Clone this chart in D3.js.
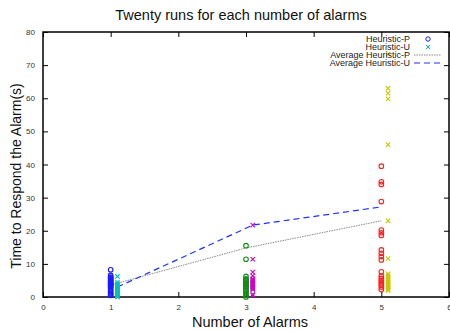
<!DOCTYPE html>
<html><head><meta charset="utf-8">
<script src="https://cdn.jsdelivr.net/npm/d3@7"></script>
<style>body{margin:0;background:#fff}svg{display:block}text{font-family:"Liberation Sans",Arial,sans-serif}</style>
</head><body><svg id="c" width="450" height="331"></svg>
<script>
// Data
const xTicks = [0,1,2,3,4,5,6];
const yTicks = [0,10,20,30,40,50,60,70,80];
const pX1 = 1, uX1 = 1.1, pX3 = 3, uX3 = 3.1, pX5 = 5, uX5 = 5.1;
const heurP1 = [8.2,6.5,6,5.8,5.5,5,4.8,4.5,4.2,4,3.8,3.5,3.2,3,2.5,2,1.5,1,0.8,0.5];
const heurU1 = [6.2,4.5,4,3.8,3.5,3.2,3,2.8,2.5,2.2,2,1.8,1.5,1.2,1,0.8,0.5,0.3,0.2,0];
const heurP3 = [15.5,11.4,6.2,5.5,5.2,5,4.8,4.5,4.2,4,3.8,3.5,3.2,3,2.5,2,1.5,1,0.5,0];
const heurU3 = [21.7,11.4,7.5,6.4,5.5,5.2,5,4.8,4.5,4.2,4,3.8,3.5,3.2,3,2.8,2.5,2.2,0.8,0.5];
const heurP5 = [39.5,34.8,34,28.8,20.2,19.4,18.6,14.2,13.2,12.2,11.2,7.6,6.3,5.6,5,4.6,4,3.6,3,2.3];
const heurU5 = [73.4,63,61.5,59.8,46,23,11.6,7,6.5,6,5.5,5,4.6,4.2,3.8,3.4,3,2.6,2.2,2];
const avgPx = [1,3,5], avgPy = [3.6,14.8,23];
const avgUx = [1.1,3.1,5.0], avgUy = [3.0,21.7,27.2];

const svg = d3.select("#c");
const L=43, R=449, T=32, B=297;
const x = d3.scaleLinear().domain([0,6]).range([L,R]);
const y = d3.scaleLinear().domain([0,80]).range([B,T]);

// axes (ticks inward, mirrored)
const g = svg.append("g");
g.append("g").attr("transform",`translate(0,${B})`).call(d3.axisBottom(x).tickValues(xTicks).tickSize(-5).tickPadding(7).tickFormat(d3.format("d")));
g.append("g").attr("transform",`translate(0,${T})`).call(d3.axisTop(x).tickValues(xTicks).tickSize(-5).tickFormat(""));
g.append("g").attr("transform",`translate(${L},0)`).call(d3.axisLeft(y).tickValues(yTicks).tickSize(-5).tickPadding(8));
g.append("g").attr("transform",`translate(${R},0)`).call(d3.axisRight(y).tickValues(yTicks).tickSize(-5).tickFormat(""));
g.selectAll(".domain").remove();
g.selectAll(".tick line").attr("stroke","#000").attr("stroke-width",1);
g.selectAll(".tick text").attr("font-size",8).attr("fill","#333");
svg.append("rect").attr("x",L).attr("y",T).attr("width",R-L).attr("height",B-T).attr("fill","none").attr("stroke","#000").attr("stroke-width",1.5);

// lines
const line = d3.line().x(d=>x(d[0])).y(d=>y(d[1]));
svg.append("path").datum(d3.zip(avgPx,avgPy)).attr("d",line).attr("fill","none").attr("stroke","#888").attr("stroke-width",1).attr("stroke-dasharray","1.5,1");
svg.append("path").datum(d3.zip(avgUx,avgUy)).attr("d",line).attr("fill","none").attr("stroke","#2030ff").attr("stroke-width",1.2).attr("stroke-dasharray","6,4");

function circles(xv, vals, col){
  svg.append("g").selectAll("circle").data(vals).join("circle")
    .attr("cx",x(xv)).attr("cy",d=>y(d)).attr("r",2.3)
    .attr("fill","none").attr("stroke",col).attr("stroke-width",1.1);
}
function crosses(xv, vals, col){
  const s=2.2;
  svg.append("g").selectAll("path").data(vals).join("path")
    .attr("d",d=>{const cx=x(xv), cy=y(d);return `M${cx-s},${cy-s}L${cx+s},${cy+s}M${cx-s},${cy+s}L${cx+s},${cy-s}`;})
    .attr("stroke",col).attr("stroke-width",1.1).attr("fill","none");
}
circles(pX1, heurP1, "#1a1aff");
crosses(uX1, heurU1, "#00c0c0");
circles(pX3, heurP3, "#109010");
crosses(uX3, heurU3, "#d000d0");
circles(pX5, heurP5, "#ff2020");
crosses(uX5, heurU5, "#c8c800");

// legend
const lg = svg.append("g");
const labels = ["Heuristic-P","Heuristic-U","Average Heuristic-P","Average Heuristic-U"];
const ly = [39,47,55,63];
labels.forEach((t,i)=>{
  lg.append("text").attr("x",410).attr("y",ly[i]).attr("dy","0.35em").attr("text-anchor","end").attr("font-size",9).attr("fill","#222").text(t);
});
lg.append("circle").attr("cx",428).attr("cy",ly[0]).attr("r",2.2).attr("fill","none").attr("stroke","#1a1aff");
{const cx=428,cy=ly[1],s=2.2;lg.append("path").attr("d",`M${cx-s},${cy-s}L${cx+s},${cy+s}M${cx-s},${cy+s}L${cx+s},${cy-s}`).attr("stroke","#00c0c0");}
lg.append("line").attr("x1",414).attr("x2",441).attr("y1",ly[2]).attr("y2",ly[2]).attr("stroke","#888").attr("stroke-dasharray","1.5,1");
lg.append("line").attr("x1",414).attr("x2",441).attr("y1",ly[3]).attr("y2",ly[3]).attr("stroke","#2030ff").attr("stroke-width",1.2).attr("stroke-dasharray","6,4");

// titles
svg.append("text").attr("x",241).attr("y",20).attr("text-anchor","middle").attr("font-size",14.5).attr("fill","#111").text("Twenty runs for each number of alarms");
svg.append("text").attr("x",250).attr("y",327).attr("text-anchor","middle").attr("font-size",14.5).attr("fill","#111").text("Number of Alarms");
svg.append("text").attr("transform",`translate(21,176) rotate(-90)`).attr("text-anchor","middle").attr("font-size",14).attr("fill","#111").text("Time to Respond the Alarm(s)");
</script></body></html>
